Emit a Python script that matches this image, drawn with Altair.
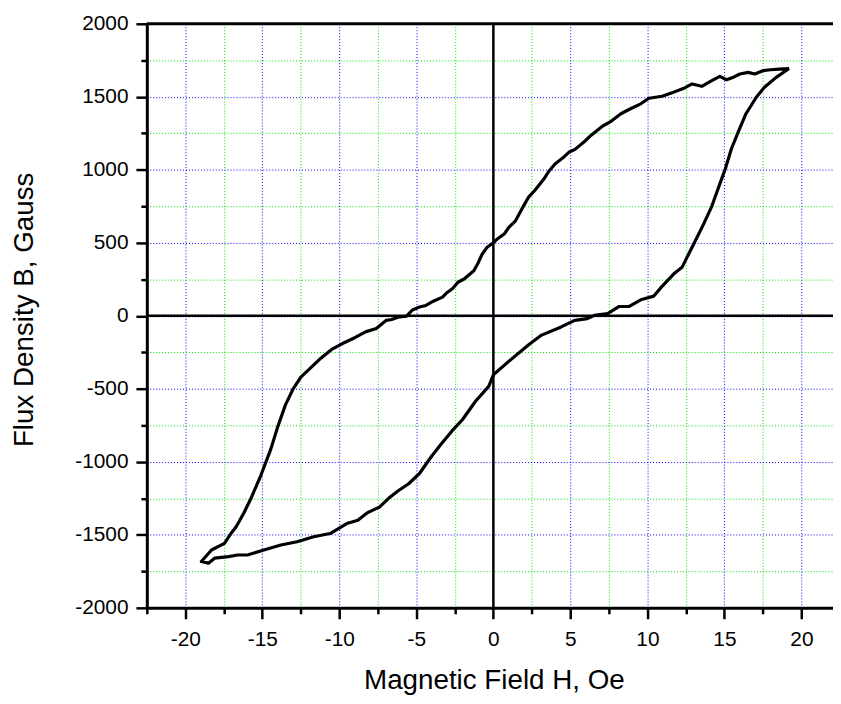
import altair as alt
import pandas as pd

# Upper (descending) branch of the hysteresis loop: H in Oe, B in Gauss
upper_h = [19.2, 18.56, 18.0, 17.5, 16.97, 16.54, 16.0, 15.5, 15.14, 14.7, 14.18, 13.53, 12.9,
           12.36, 11.6, 10.96, 10.1, 9.57, 8.9, 8.28, 7.64, 7.1, 6.35, 5.9, 5.3, 4.9, 4.6, 4.0, 3.6,
           3.3, 2.7, 2.3, 2.0, 1.42, 1.0, 0.7, 0.3, 0.0, -0.4, -0.73, -1.0, -1.27, -1.9, -2.3, -2.66,
           -3.0, -3.3, -3.9, -4.38, -4.8, -5.23, -5.66, -6.2, -6.6,
           -6.95, -7.6, -8.3, -9.0, -9.8, -10.5, -11.2, -11.9, -12.5, -13.0, -13.5, -14.0,
           -14.45, -15.1, -15.75, -16.2, -16.7, -17.1, -17.46, -18.3, -18.96]
upper_b = [1694, 1690, 1685, 1679, 1656, 1667, 1656, 1630, 1617, 1640, 1611, 1572, 1588,
           1558, 1527, 1504, 1490, 1452, 1418, 1384, 1332, 1300, 1237, 1192, 1140, 1120, 1090, 1040, 990,
           940, 860, 815, 760, 648, 605, 560, 530, 501, 470, 422, 360, 309, 252, 230, 185,
           160, 128, 100, 71, 60, 42, -3, -10, -25,
           -31, -87, -110, -150, -190, -230, -290, -360, -420, -500, -610, -760,
           -913, -1094, -1253, -1350, -1445, -1500, -1558, -1604, -1683]

# Lower (ascending) branch
lower_h = [-18.96, -18.5, -18.1, -17.2, -16.6, -15.96, -14.9, -13.8, -12.74, -11.67, -10.6,
           -9.52, -8.8, -8.2, -7.4, -6.8, -6.2, -5.5, -4.8, -4.0, -3.4, -2.7, -2.0, -1.16, -0.3,
           0.0, 0.98, 2.27, 3.13, 4.4, 5.28, 6.1, 6.56, 7.42, 8.17, 8.82, 9.57, 10.42, 10.86,
           11.7, 12.25, 12.57, 13.0, 13.64, 14.18, 14.72, 15.04, 15.46, 15.9, 16.4, 17.07, 17.6,
           18.36, 19.2]
lower_b = [-1683, -1694, -1660, -1649, -1638, -1638, -1604, -1570, -1547, -1513, -1491,
           -1423, -1400, -1350, -1310, -1250, -1200, -1150, -1080, -960, -880, -790, -710, -585, -483,
           -404, -314, -200, -132, -76, -31, -19, 3, 15, 64, 64, 110, 135, 191,
           286, 332, 400, 490, 626, 750, 909, 1000, 1146, 1260, 1384, 1497, 1565,
           1633, 1694]

x_ticks = [-22.5, -20, -17.5, -15, -12.5, -10, -7.5, -5, -2.5, 0, 2.5, 5, 7.5, 10, 12.5, 15, 17.5, 20]
y_ticks = [-2000, -1750, -1500, -1250, -1000, -750, -500, -250, 0, 250, 500, 750, 1000,
           1250, 1500, 1750, 2000]

h_all = upper_h + lower_h
b_all = upper_b + lower_b
df = pd.DataFrame({"H": h_all, "B": b_all, "i": list(range(len(h_all)))})

font = "Liberation Sans"
xscale = alt.Scale(domain=[-22.5, 22.05], nice=False, zero=False)
yscale = alt.Scale(domain=[-2000, 2000], nice=False, zero=False)

x_axis = alt.Axis(
    values=x_ticks,
    labelExpr="datum.value % 5 === 0 ? '' + datum.value : ''",
    title="Magnetic Field H, Oe",
    titleX=350, titleY=81, titleBaseline="alphabetic",
    tickSize={"condition": {"test": "datum.value % 5 === 0", "value": 11}, "value": 6},
    gridColor={"condition": {"test": "datum.value % 5 === 0", "value": "#0000ff"}, "value": "#00e000"},
    labelPadding=10,
)
y_axis = alt.Axis(
    values=y_ticks,
    labelExpr="datum.value % 500 === 0 ? '' + datum.value : ''",
    title="Flux Density B, Gauss",
    titleX=-115, titleY=288, titleBaseline="alphabetic", titleAngle=270,
    tickSize={"condition": {"test": "datum.value % 500 === 0", "value": 11}, "value": 6},
    gridColor={"condition": {"test": "datum.value % 500 === 0", "value": "#0000ff"}, "value": "#00e000"},
    labelPadding=8,
)

curve = alt.Chart(df).mark_line(color="black", strokeWidth=3.2, strokeJoin="round").encode(
    x=alt.X("H:Q", scale=xscale, axis=x_axis),
    y=alt.Y("B:Q", scale=yscale, axis=y_axis),
    order="i:Q",
)

vzero = alt.Chart(pd.DataFrame({"H": [0]})).mark_rule(color="black", strokeWidth=2.5).encode(
    x=alt.X("H:Q", scale=xscale, axis=x_axis))
hzero = alt.Chart(pd.DataFrame({"B": [0]})).mark_rule(color="black", strokeWidth=2.5).encode(
    y=alt.Y("B:Q", scale=yscale, axis=y_axis))
top = alt.Chart(pd.DataFrame({"B": [2000]})).mark_rule(color="black", strokeWidth=3).encode(
    y=alt.Y("B:Q", scale=yscale, axis=y_axis))

chart = alt.layer(vzero, hzero, top, curve).properties(
    width=692, height=589,
    autosize=alt.AutoSizeParams(type="none"),
    padding={"left": 140, "top": 13, "right": 0, "bottom": 88},
).configure_view(strokeWidth=0).configure_axis(
    labelFont=font, titleFont=font, labelFontSize=21, titleFontSize=28,
    labelColor="black", titleColor="black", titleFontWeight="normal",
    domainColor="black", domainWidth=3, tickColor="black", tickWidth=2.5,
    gridDash=[1, 2], gridWidth=1, gridOpacity=1,
)

chart.save("out.html", embed_options={"renderer": "svg", "actions": False})
